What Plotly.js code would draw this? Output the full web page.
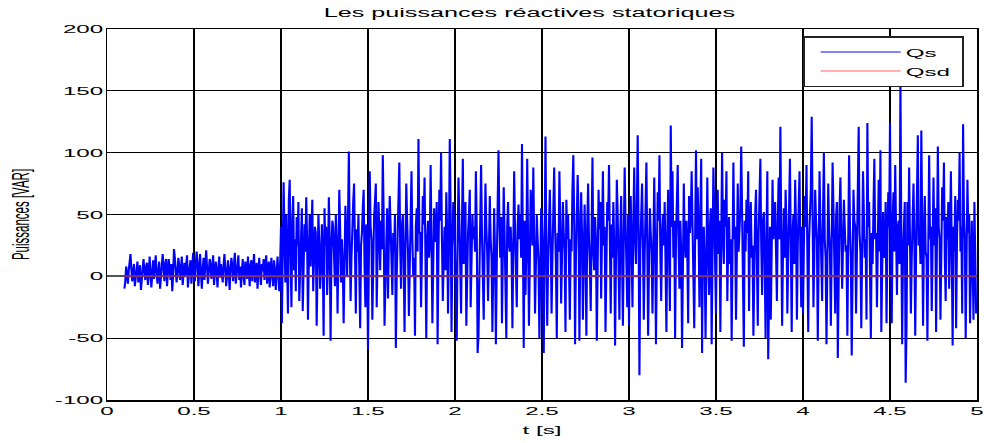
<!DOCTYPE html>
<html>
<head>
<meta charset="utf-8">
<script src="https://cdn.plot.ly/plotly-3.0.1.min.js"></script>
<style>
html,body{margin:0;padding:0;background:#fff;}
#chart{width:984px;height:443px;}
</style>
</head>
<body>
<div id="chart"></div>
<script>
// Sampling of Qs: first sample time and step (s)
const qsStart = 0.1;
const qsStep = 0.005;

// Qs, 0.100 s – 0.495 s
const qs01 = [-10, -4, 8, 2, -6, 5, 15, 18, 6, -4,
  3, 10, -8, -2, 7, 12, -5, 1, 9, -11,
  -3, 6, 14, 4, -3, 8, 11, -7, 0, 16,
  5, -9, 2, 13, -2, 9, 17, 3, -6, 4,
  12, -10, -1, 5, 18, 7, -4, 10, 14, -8,
  2, 14, 6, -3, 10, -12, 1, 22, 15, 6,
  -5, 3, 15, 9, -3, 5, 16, -7, 2, 11,
  1, 13, 17, -9, 4, 8, 13, -6, 6, 19];
// Qs, 0.500 s – 0.995 s
const qs05 = [5, -4, 8, 20, 12, -8, 3, 18, 2, -10,
  6, 15, -3, 10, 21, 7, -6, 4, 14, 9,
  -2, 8, 17, -7, 3, 12, 4, -9, 6, 16,
  -1, 10, 2, -5, 9, 18, 6, -8, 1, 13,
  2, -11, 7, 15, 8, -4, 11, 19, -6, 3,
  11, 17, -3, 8, -9, 5, 14, 0, -7, 12,
  6, -2, 16, 3, -8, 9, 13, -4, 7, 18,
  -5, 2, 11, -10, 6, 15, 1, -7, 10, 4,
  14, -3, 8, 17, -6, 3, 12, -9, 9, 15,
  0, -8, 13, 5, -11, 7, 16, 2, -12, 10];
// Qs, 1.000 s – 1.495 s
const qs10 = [40, -38, 10, 76, 35, -5, 50, 20, -30, 62,
  78, 15, -25, 45, 65, 5, 30, -12, 48, 25,
  60, -20, 10, 38, 55, -28, 0, 42, 20, 64,
  30, -35, 15, 50, 8, 45, 62, -12, 22, 40,
  35, -40, 5, 50, 28, -10, 8, 42, 15, -48,
  55, 25, 40, -15, 10, 64, 30, -52, 20, 45,
  40, 12, -8, 50, 25, -30, 15, 70, 38, -5,
  30, 10, -38, 20, 57, 35, 0, 45, 101, 28,
  -20, 15, 45, 60, 75, 5, -30, 38, 20, 50,
  -10, -42, 25, 35, 55, 70, 10, -25, 42, 18];
// Qs, 1.500 s – 1.995 s
const qs15 = [-59, 20, 85, 40, 30, -35, 12, 48, 60, 75,
  -25, 15, 60, 38, 5, 45, 22, 98, 50, -40,
  10, 25, 55, -18, 30, 65, 40, 8, -15, 35,
  20, 50, -58, 0, 30, 55, 92, 25, -10, 40,
  50, 15, -45, 22, 75, 45, 20, -32, 10, 58,
  85, 30, 0, 15, -48, 40, 55, 20, 111, 35,
  35, -25, 10, 65, 42, 80, 18, -50, 30, 45,
  15, 25, 90, 40, -38, 10, 55, 28, 30, 60,
  -55, 20, 70, 45, 100, 30, -20, 15, 40, 5,
  68, 35, -30, 25, 111, 50, -45, 20, 60, 40];
// Qs, 2.000 s – 2.495 s
const qs20 = [25, -20, -52, 30, 80, 45, 15, -30, 40, 95,
  10, 35, 60, -40, 20, 35, 50, 70, -25, 15,
  50, 30, 40, 20, 85, 40, -62, -48, 10, 60,
  90, 35, 5, -35, 25, 75, 40, 20, -20, 45,
  65, 30, 15, -45, 30, 55, 20, -55, 10, 80,
  102, 45, 15, 48, -38, 20, 72, 35, 0, -50,
  40, 60, 25, 20, 40, 20, -42, 15, 85, 38,
  10, -25, 40, 58, 30, 50, 15, 107, 30, -58,
  45, -15, 20, 95, 30, -40, 10, 70, 50, 25,
  88, 35, -30, 10, 50, 30, 10, -50, 25, 55];
// Qs, 2.500 s – 2.995 s
const qs25 = [45, 20, -62, 30, 113, 25, -40, 10, 55, 70,
  30, -30, 15, 50, 88, 40, 10, -50, 35, 20,
  85, 40, -22, 15, 60, 35, 20, -45, 62, 30,
  50, 10, -35, 30, 20, 70, 98, 45, -55, 15,
  40, 82, 50, -52, 20, 68, 35, -35, 15, 58,
  20, -48, 40, 75, 30, 10, -28, 45, 96, 20,
  5, 48, 30, -52, 15, 70, 38, 60, -18, 20,
  85, 25, 40, -45, 10, 60, 45, 90, 30, -30,
  42, 15, 60, 25, -56, 10, 78, 50, 20, -35,
  35, 65, 15, -40, 30, 88, 45, 20, -25, 50];
// Qs, 3.000 s – 3.495 s
const qs30 = [-40, 30, 65, 20, -25, 45, 88, 30, 10, 55,
  114, 40, -80, 20, 45, 75, 30, -35, 15, 50,
  92, 25, -48, 10, 55, 35, 20, -30, 40, 80,
  30, -55, 15, 68, 45, 98, 20, -20, 35, 50,
  25, 60, 10, -45, 35, 70, 20, -28, 122, 40,
  85, 15, 45, -50, 30, 60, 90, 25, -10, 45,
  20, -58, 40, 75, 30, 15, 45, 20, -38, 65,
  35, 48, 85, 20, 0, -42, 40, 102, 30, 72,
  35, -25, 50, 95, -62, 28, 40, 10, -50, 60,
  80, 20, -15, 40, 55, -55, 30, 88, 52, 15];
// Qs, 3.500 s – 3.995 s
const qs35 = [-30, 40, 70, 18, 45, -45, 20, 100, 35, 10,
  62, 40, 85, -20, 25, 48, 10, 30, -52, 55,
  92, 30, 40, -35, 15, 75, 20, 45, 55, 105,
  30, 10, -57, 45, 20, 62, 35, 85, -28, 40,
  60, 15, 25, -48, 30, 50, 70, 20, -40, 35,
  70, 95, 25, -15, 45, 52, 10, -50, 30, 85,
  -67, 25, 40, -35, 15, 78, 30, 48, 60, 20,
  -20, 45, 80, 30, 121, 35, -40, 20, 55, 15,
  70, 40, -30, 15, 60, 95, 25, -45, 35, 50,
  10, 78, 40, -35, 25, 62, 85, 20, -25, 40];
// Qs, 4.000 s – 4.495 s
const qs40 = [-30, 25, 65, 40, 90, 20, -45, 30, 50, 70,
  129, 30, -25, 15, 70, 45, 30, -52, 20, 85,
  45, 10, -20, 50, 100, 30, 15, -55, 40, 75,
  38, 20, -40, 35, 92, 55, 10, -30, 48, 60,
  -66, 20, 55, 80, 35, -10, 25, 62, 40, 20,
  25, -48, 30, 98, 40, 15, -64, 30, 70, 45,
  40, -30, 25, 55, 121, 35, 20, -42, 48, 85,
  50, 15, 30, -35, 124, 40, 60, 20, -50, 35,
  10, 55, 95, 30, 35, -25, 45, 78, 20, 102,
  -45, 30, 52, 15, 20, 60, -38, 25, 68, 40];
// Qs, 4.500 s – 4.995 s
const qs45 = [124, 30, -38, 45, 68, 20, 90, 35, -15, 40,
  45, 10, 159, 30, -55, 20, 40, 60, -86, -40,
  60, 25, 88, 40, -30, 15, 42, 75, 30, -48,
  20, 55, 114, 25, 40, 10, 118, 45, -40, 30,
  65, 20, 15, -52, 40, 98, 30, 40, -28, 60,
  80, 25, 55, -45, 30, 105, 40, 30, -35, 20,
  72, 45, 92, 15, -20, 48, 30, 60, -10, 35,
  85, 20, -56, 40, 20, 65, -42, 30, 62, 45,
  100, 20, 40, -30, 123, 50, 30, -50, 15, 78,
  35, 50, -38, 20, 45, 10, -35, 60, 25, -30];

// Qsd reference (constant zero)
const qsdT = [0.1, 5];
const qsdV = [0, 0];

// Axis ticks
const xTicks = [0, 0.5, 1, 1.5, 2, 2.5, 3, 3.5, 4, 4.5, 5];
const xTickText = ['0', '0.5', '1', '1.5', '2', '2.5', '3', '3.5', '4', '4.5', '5'];
const yTicks = [-100, -50, 0, 50, 100, 150, 200];
const yTickText = ['-100', '-50', '0', '50', '100', '150', '200'];

const qs = [].concat(qs01, qs05, qs10, qs15, qs20, qs25, qs30, qs35, qs40, qs45);

const traces = [
  {type: 'scatter', mode: 'lines', name: 'Qs', x0: qsStart, dx: qsStep, y: qs,
   line: {color: '#0000ff', width: 2.1}, showlegend: false, hoverinfo: 'skip'},
  {type: 'scatter', mode: 'lines', name: 'Qsd', x: qsdT, y: qsdV,
   line: {color: '#82306c', width: 2}, showlegend: false, hoverinfo: 'skip'},
  {type: 'scatter', mode: 'lines', name: 'Qs', x: [null], y: [null],
   line: {color: '#5a5aff', width: 1.5}},
  {type: 'scatter', mode: 'lines', name: 'Qsd', x: [null], y: [null],
   line: {color: '#ffb0b0', width: 2}}
];

const FONT = 'Liberation Sans, Arial, sans-serif';
const tickFont = {family: FONT, size: 11.5, color: '#000'};

const layout = {
  width: 984, height: 443,
  margin: {l: 107, r: 7, t: 29, b: 43},
  paper_bgcolor: '#fff', plot_bgcolor: '#fff',
  title: {text: 'Les puissances réactives statoriques',
    font: {family: FONT, size: 12, color: '#000'},
    x: 0.538, xanchor: 'center', y: 0.97, yanchor: 'middle'},
  xaxis: {range: [0, 5], tickvals: xTicks, ticktext: xTickText,
    showgrid: true, gridcolor: '#000', gridwidth: 2.5,
    showline: true, linecolor: '#000', linewidth: 1.5, mirror: true,
    zeroline: false, ticks: '', tickfont: tickFont,
    title: {text: 't [s]', font: {family: FONT, size: 11.5, color: '#000'}, standoff: 9}},
  yaxis: {range: [-100, 200], tickvals: yTicks, ticktext: yTickText,
    showgrid: true, gridcolor: '#000', gridwidth: 1.2,
    showline: true, linecolor: '#000', linewidth: 1.5, mirror: true,
    zeroline: true, zerolinecolor: '#555', zerolinewidth: 2,
    ticks: '', tickfont: tickFont,
    title: {text: 'Puissances [VAR]', font: {family: FONT, size: 11.5, color: '#000'}, standoff: 48}},
  legend: {x: 0.985, y: 0.981, xanchor: 'right', yanchor: 'top',
    bgcolor: '#fff', bordercolor: '#222', borderwidth: 1.5,
    font: {family: FONT, size: 11.5, color: '#000'},
    itemwidth: 80, tracegroupgap: 0},
  showlegend: true
};

// Horizontal stretch of the text glyphs, as in the reference picture
const STRETCH = 2.1;

function stretchText(gd) {
  const hs = el => {
    const x = parseFloat(el.getAttribute('x')) || 0;
    const t = el.getAttribute('transform') || '';
    el.setAttribute('transform', t + ' translate(' + x + ',0) scale(' + STRETCH + ',1) translate(' + (-x) + ',0)');
  };
  gd.querySelectorAll('.xtick text, .ytick text, .gtitle, .g-xtitle text').forEach(hs);
  gd.querySelectorAll('.g-ytitle text').forEach(el => {
    const x = parseFloat(el.getAttribute('x')) || 0;
    const y = parseFloat(el.getAttribute('y')) || 0;
    const t = el.getAttribute('transform') || '';
    el.setAttribute('transform', t + ' translate(' + x + ',' + y + ') scale(1,' + STRETCH + ') translate(' + (-x) + ',' + (-y) + ')');
  });
  const leg = gd.querySelector('.legend');
  if (leg) {
    const bg = leg.querySelector('rect.bg');
    const sb = leg.querySelector('.scrollbox');
    if (sb) sb.removeAttribute('clip-path');
    const shift = 11;
    let right = 0;
    leg.querySelectorAll('.traces').forEach(tr => {
      const t = tr.getAttribute('transform') || '';
      tr.setAttribute('transform', t + ' translate(' + shift + ',0)');
      const txt = tr.querySelector('.legendtext');
      if (txt) {
        const w = txt.getBBox().width;
        hs(txt);
        const x = parseFloat(txt.getAttribute('x')) || 0;
        right = Math.max(right, shift + x + w * STRETCH);
      }
    });
    if (bg) {
      const oldW = parseFloat(bg.getAttribute('width'));
      const newW = right + 14;
      bg.setAttribute('width', newW);
      const m = /translate\(([-\d.]+)[ ,]+([-\d.]+)\)/.exec(leg.getAttribute('transform') || '');
      if (m) {
        leg.setAttribute('transform', 'translate(' + (parseFloat(m[1]) - (newW - oldW)) + ',' + m[2] + ')');
      }
    }
  }
}

Plotly.newPlot('chart', traces, layout, {displayModeBar: false, staticPlot: true})
  .then(gd => stretchText(gd));
</script>
</body>
</html>
